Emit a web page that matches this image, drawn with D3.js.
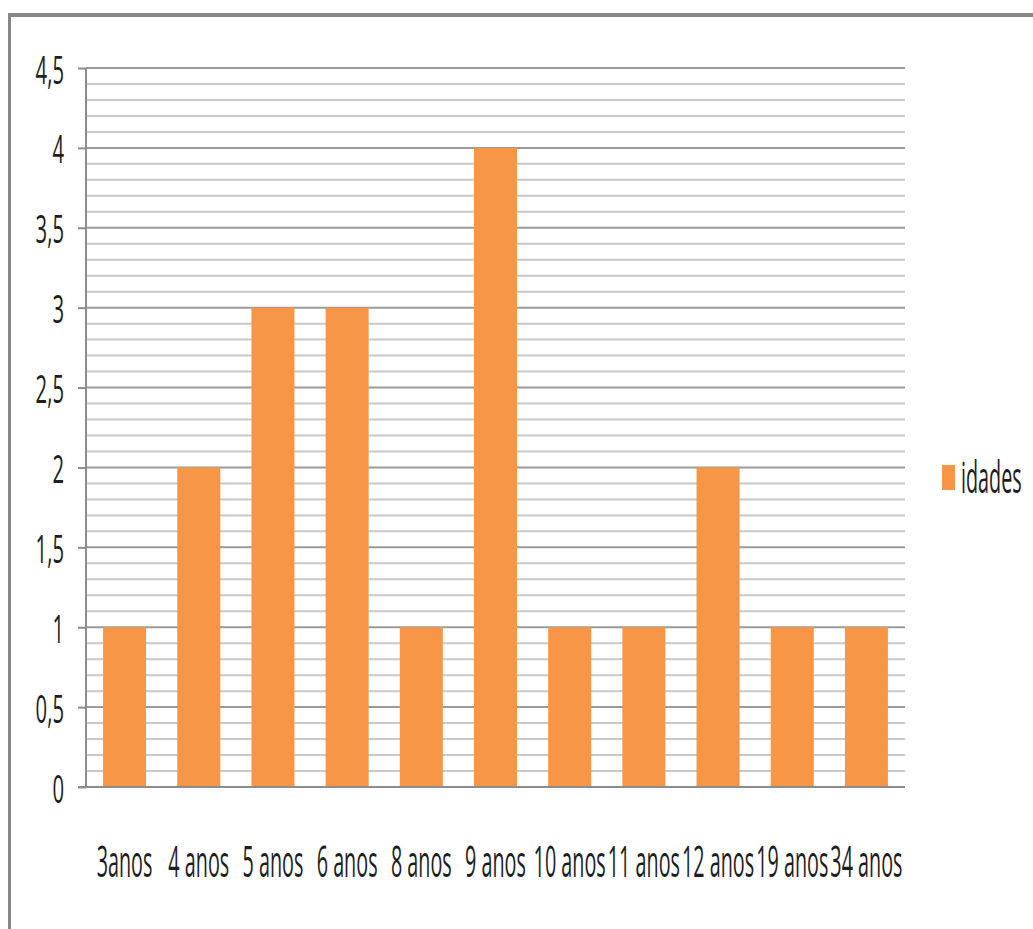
<!DOCTYPE html>
<html>
<head>
<meta charset="utf-8">
<script src="https://cdn.jsdelivr.net/npm/d3@7"></script>
<style>
html,body{margin:0;padding:0;background:#fff;}
svg{display:block;}
</style>
</head>
<body>
<svg id="chart" width="1033" height="929"></svg>
<script>
const categories = ["3anos","4 anos","5 anos","6 anos","8 anos","9 anos","10 anos","11 anos","12 anos","19 anos","34 anos"];
const values = [1,2,3,3,1,4,1,1,2,1,1];
const seriesName = "idades";
const yMajorTicks = [0,0.5,1,1.5,2,2.5,3,3.5,4,4.5];
const yTickLabels = ["0","0,5","1","1,5","2","2,5","3","3,5","4","4,5"];
const yMinorTicks = d3.range(0,46).map(i=>i/10);

const svg = d3.select("#chart");
const FONT = "'Open Sans', 'Liberation Sans', sans-serif";
const TEXT = "#1e1e1e";

// frame
svg.append("rect").attr("x",9.5).attr("y",15).attr("width",1040).attr("height",940)
  .attr("fill","none").attr("stroke","#878787").attr("stroke-width",3);
svg.append("line").attr("x1",8).attr("x2",1033).attr("y1",15).attr("y2",15)
  .attr("stroke","#878787").attr("stroke-width",4);

const pL=86, pR=905, pT=68, pB=787;
const x = d3.scaleBand().domain(categories).range([pL,pR]).paddingInner(0.42).paddingOuter(0.23);
const y = d3.scaleLinear().domain([0,4.5]).range([pB,pT]);

// minor gridlines
svg.append("g").selectAll("line").data(yMinorTicks.filter(v=>Math.round(v*10)%5!==0)).join("line")
  .attr("x1",pL).attr("x2",pR).attr("y1",d=>y(d)).attr("y2",d=>y(d))
  .attr("stroke","#c9c9c9").attr("stroke-width",2);
// major gridlines
svg.append("g").selectAll("line").data(yMajorTicks).join("line")
  .attr("x1",pL).attr("x2",pR).attr("y1",d=>y(d)).attr("y2",d=>y(d))
  .attr("stroke","#9a9a9a").attr("stroke-width",2);

// bars
svg.append("g").selectAll("rect").data(values).join("rect")
  .attr("x",(d,i)=>x(categories[i])).attr("width",x.bandwidth())
  .attr("y",d=>y(d)).attr("height",d=>y(0)-y(d))
  .attr("fill","#f79646");

// y axis
const yAxis = d3.axisLeft(y).tickValues(yMajorTicks).tickSize(8).tickFormat((d,i)=>yTickLabels[i]);
const gy = svg.append("g").attr("transform",`translate(${pL},0)`).call(yAxis);
gy.select(".domain").attr("stroke","#8c8c8c").attr("stroke-width",2).attr("d",`M0,${pT}V${pB}`);
gy.selectAll(".tick line").attr("stroke","#8c8c8c").attr("stroke-width",2);
gy.selectAll(".tick text")
  .attr("x",null).attr("dy",null)
  .attr("transform","translate(-22,0) scale(0.52,1)")
  .attr("text-anchor","end").attr("dominant-baseline","central")
  .attr("fill",TEXT).attr("font-family",FONT).attr("font-size",39);

// x axis line
const xAxis = d3.axisBottom(x).tickSize(0).tickPadding(0);
const gx = svg.append("g").attr("transform",`translate(0,${pB})`).call(xAxis);
gx.select(".domain").attr("stroke","#8c8c8c").attr("stroke-width",2).attr("d",`M${pL-8},0H${pR}`);
gx.selectAll(".tick text")
  .attr("y",null).attr("dy",null)
  .attr("transform","translate(0,90) scale(0.46,1)")
  .attr("text-anchor","middle")
  .attr("fill",TEXT).attr("font-family",FONT).attr("font-size",43);

// legend
const lg = svg.append("g").attr("transform","translate(942,465)");
lg.append("rect").attr("width",13).attr("height",25).attr("fill","#f79646");
lg.append("text").text(seriesName)
  .attr("transform","translate(19,28) scale(0.46,1)")
  .attr("fill",TEXT).attr("font-family",FONT).attr("font-size",43);
</script>
</body>
</html>
